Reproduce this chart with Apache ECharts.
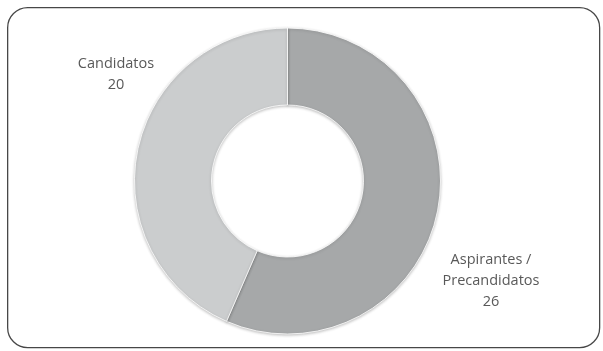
<!DOCTYPE html>
<html><head><meta charset="utf-8">
<script src="https://cdn.jsdelivr.net/npm/echarts@6/dist/echarts.min.js"></script>
<style>html,body{margin:0;padding:0;background:#fff}#c{width:603px;height:351px}</style>
</head><body><div id="c"></div>
<script>
const categories = ['Aspirantes /\nPrecandidatos', 'Candidatos'];
const values = [26, 20];
const colors = ['#a6a8a9', '#cbcdce'];
const labelPos = [[491, 281], [116, 74]];

const chart = echarts.init(document.getElementById('c'), null, {renderer: 'canvas'});
chart.setOption({
  animation: false,
  graphic: [{
    type: 'rect', left: 7, top: 7, z: -1,
    shape: {width: 592, height: 340, r: 20},
    style: {fill: '#fff', stroke: '#474747', lineWidth: 1.3}
  }],
  series: [{
    type: 'pie',
    center: [287.5, 181],
    radius: [76, 153],
    startAngle: 90,
    clockwise: true,
    data: categories.map((c, i) => ({name: c, value: values[i], itemStyle: {color: colors[i]}})),
    itemStyle: {borderColor: '#fff', borderWidth: 0.8, shadowBlur: 3, shadowColor: 'rgba(0,0,0,0.25)', shadowOffsetY: 1},
    label: {
      show: true, position: 'outside',
      formatter: p => p.name + '\n' + p.value,
      fontFamily: 'Open Sans', fontSize: 14.5, color: '#595959', lineHeight: 21, align: 'center'
    },
    labelLine: {show: false},
    labelLayout: p => ({x: labelPos[p.dataIndex][0], y: labelPos[p.dataIndex][1], align: 'center', verticalAlign: 'middle'})
  }]
});
</script></body></html>
